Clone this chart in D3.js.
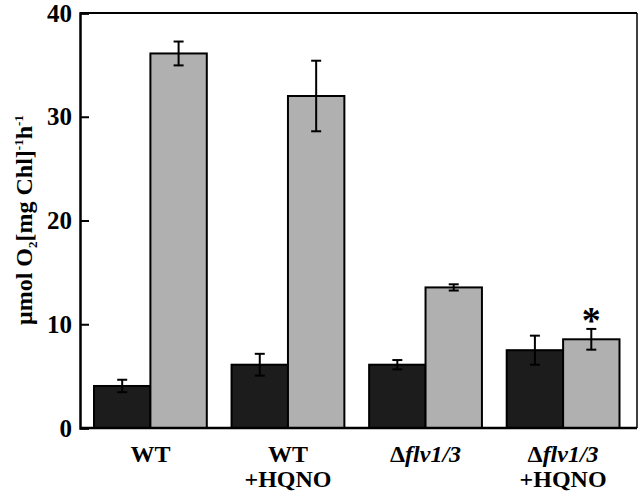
<!DOCTYPE html>
<html><head><meta charset="utf-8">
<script src="https://cdn.jsdelivr.net/npm/d3@7"></script>
<style>body{margin:0;background:#fff}svg{display:block}</style>
</head><body>
<svg id="c" width="641" height="496"></svg>
<script>
const categories = [["WT"], ["WT", "+HQNO"], ["Δflv1/3"], ["Δflv1/3", "+HQNO"]];
const seriesNames = ["dark", "light"];
const darkValues = [4.05, 6.1, 6.1, 7.5];
const darkErrors = [0.6, 1.05, 0.45, 1.4];
const lightValues = [36.1, 32.0, 13.55, 8.55];
const lightErrors = [1.15, 3.4, 0.3, 1.0];
const yTicks = [0, 10, 20, 30, 40];
const asteriskIndex = 3;

const svg = d3.select("#c");
const L = 80, R = 637, T = 13, B = 428;
const y = d3.scaleLinear().domain([0, 40]).range([B, T]);
const x = d3.scaleBand().domain(d3.range(categories.length)).range([94, 619.5]).paddingInner(0.18).paddingOuter(0);
const xs = d3.scaleBand().domain(seriesNames).range([0, x.bandwidth()]).padding(0);
const fills = {dark: "#1c1c1c", light: "#b0b0b0"};
const font = "'Liberation Serif','Times New Roman',serif";

const data = [];
categories.forEach((c, i) => {
  data.push({i, s: "dark", v: darkValues[i], e: darkErrors[i]});
  data.push({i, s: "light", v: lightValues[i], e: lightErrors[i]});
});

// bars
svg.append("g").selectAll("rect").data(data).join("rect")
  .attr("x", d => x(d.i) + xs(d.s))
  .attr("y", d => y(d.v))
  .attr("width", xs.bandwidth())
  .attr("height", d => y(0) - y(d.v))
  .attr("fill", d => fills[d.s])
  .attr("stroke", "#000").attr("stroke-width", 2);

// error bars
const eg = svg.append("g").attr("stroke", "#000").attr("stroke-width", 2);
data.forEach(d => {
  const cx = x(d.i) + xs(d.s) + xs.bandwidth() / 2;
  eg.append("line").attr("x1", cx).attr("x2", cx).attr("y1", y(d.v + d.e)).attr("y2", y(d.v - d.e));
  [d.v + d.e, d.v - d.e].forEach(v => eg.append("line").attr("x1", cx - 5).attr("x2", cx + 5).attr("y1", y(v)).attr("y2", y(v)));
});

// asterisk
{
  const cx = x(asteriskIndex) + xs("light") + xs.bandwidth() / 2;
  svg.append("text").attr("x", cx).attr("y", y(lightValues[asteriskIndex] + lightErrors[asteriskIndex]) + 4)
    .attr("text-anchor", "middle").attr("font-family", font).attr("font-weight", "bold")
    .attr("font-size", 38).text("*");
}

// frame
svg.append("line").attr("x1", L).attr("x2", R).attr("y1", T).attr("y2", T).attr("stroke", "#000").attr("stroke-width", 2.2);
svg.append("line").attr("x1", R).attr("x2", R).attr("y1", T).attr("y2", B).attr("stroke", "#000").attr("stroke-width", 1.5);
svg.append("line").attr("x1", L).attr("x2", R).attr("y1", B).attr("y2", B).attr("stroke", "#000").attr("stroke-width", 2.5);

// y axis
const yAxis = d3.axisLeft(y).tickValues(yTicks).tickSize(-9).tickPadding(8).tickFormat(d3.format("d"));
const ga = svg.append("g").attr("transform", `translate(${L},0)`).call(yAxis);
ga.select(".domain").attr("stroke-width", 2.5);
ga.selectAll(".tick line").attr("stroke-width", 2);
ga.selectAll("text").attr("font-family", font).attr("font-weight", "bold").attr("font-size", 25).attr("fill", "#000");

// x labels
categories.forEach((c, i) => {
  const cx = x(i) + x.bandwidth() / 2;
  c.forEach((line, k) => {
    const t = svg.append("text").attr("x", cx).attr("y", 462 + k * 24.5)
      .attr("text-anchor", "middle").attr("font-family", font).attr("font-weight", "bold").attr("font-size", 24);
    if (line.startsWith("Δ")) {
      t.append("tspan").text("Δ");
      t.append("tspan").attr("font-style", "italic").text(line.slice(1));
    } else t.text(line);
  });
});

// y label
const yl = svg.append("text").attr("transform", "translate(32,220) rotate(-90)")
  .attr("text-anchor", "middle").attr("font-family", font).attr("font-weight", "bold").attr("font-size", 24);
yl.append("tspan").text("μmol O");
yl.append("tspan").attr("font-size", 13).attr("dy", 5).text("2");
yl.append("tspan").attr("dy", -5).text("[mg Chl]");
yl.append("tspan").attr("font-size", 13).attr("dy", -9).text("-1");
yl.append("tspan").attr("dy", 9).text("h");
yl.append("tspan").attr("font-size", 13).attr("dy", -9).text("-1");
</script>
</body></html>
